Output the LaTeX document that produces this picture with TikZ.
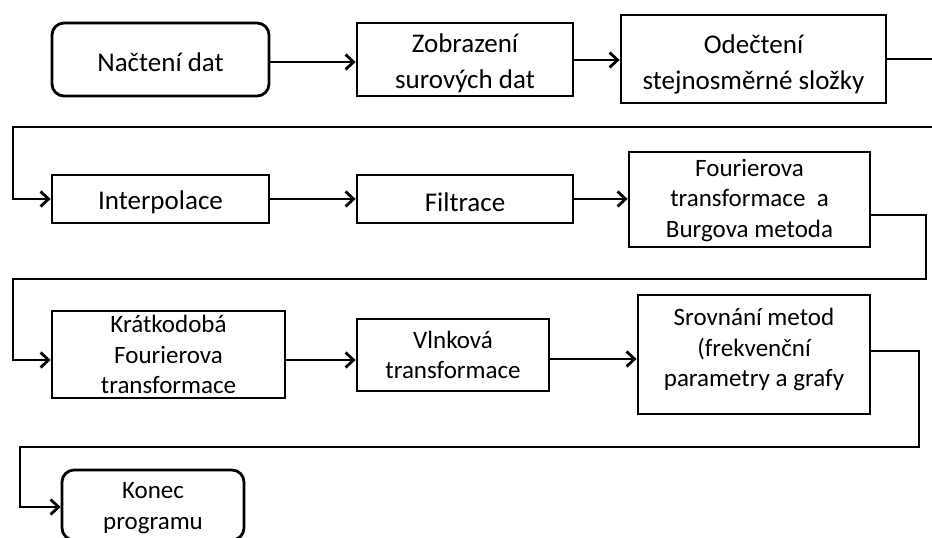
\documentclass[tikz,border=0pt]{standalone}
\usepackage{fontspec}
\setmainfont{Carlito}
\usetikzlibrary{arrows.meta}
\begin{document}
\begin{tikzpicture}[x=1pt,y=1pt,
  box/.style n args={2}{draw, line width=2.8pt, inner sep=0pt,
    minimum width=#1, minimum height=#2},
  txt/.style={inner sep=0pt, align=center},
  big/.style={font=\fontsize{27}{36}\selectfont},
  small/.style={font=\fontsize{25}{30.5}\selectfont},
  wire/.style={line width=2.8pt},
  conn/.style={line width=2.8pt, -{Straight Barb[length=8pt,width=15pt]}}]
\useasboundingbox[fill=white] (0,0) rectangle (932,-538);

\node[box={217}{73}, rounded corners=12pt] (n1) at (160.5,-59.5) {};
\node[box={216}{73}] (n2) at (465,-59.5) {};
\node[box={265}{88}] (n3) at (753.5,-59) {};
\node[box={217}{48}] (n4) at (160.5,-199) {};
\node[box={216}{48}] (n5) at (465,-199) {};
\node[box={241}{95}] (n6) at (749.5,-199.5) {};
\node[box={233}{87}] (n7) at (168.5,-354.5) {};
\node[box={192}{72}] (n8) at (453,-355) {};
\node[box={232}{119}] (n9) at (754,-354.5) {};
\node[box={182}{70}, rounded corners=12pt] (n10) at (153,-505) {};

\node[txt, big, yshift=-3pt] (t1) at (n1) {Načtení dat};
\node[txt, big, yshift=-4pt] (t2) at (n2) {Zobrazení\\surových dat};
\node[txt, big, yshift=-5pt] (t3) at (n3) {Odečtení\\stejnosměrné složky};
\node[txt, big, yshift=-3pt] (t4) at (n4) {Interpolace};
\node[txt, big, yshift=-3pt] (t5) at (n5) {Filtrace};
\node[txt, small, yshift=-1pt] (t6) at (n6) {Fourierova\\transformace \ a\\Burgova metoda};
\node[txt, small] (t7) at (n7) {Krátkodobá\\Fourierova\\transformace};
\node[txt, small] (t8) at (n8) {Vlnková\\transformace};
\node[txt, small, yshift=5pt] (t9) at (n9) {Srovnání metod\\(frekvenční\\parametry a grafy};
\node[txt, small, yshift=-3pt] (t10) at (n10) {Konec\\programu};

\coordinate (o1) at (932,-59);
\coordinate (c1) at (932,-127);
\coordinate (c2) at (13,-127);
\coordinate (c3) at (926,-279);
\coordinate (c4) at (13,-279);
\coordinate (c5) at (919,-447);
\coordinate (c6) at (20,-447);

\draw[conn] (n1.east |- 0,-62) -- (n2.west |- 0,-62);
\draw[conn] (n2.east |- 0,-60) -- (n3.west |- 0,-60);
\draw[wire] (n3.east) -- (o1);
\draw[conn] (c1) -- (c2) |- (n4.west);
\draw[conn] (n4) -- (n5);
\draw[conn] (n5.east) -- (n5.east -| n6.west);
\draw[conn] (n6.east |- 0,-215) -| (c3) -- (c4) |- (n7.west |- 0,-360);
\draw[conn] (n7.east |- 0,-360) -- (n8.west |- 0,-360);
\draw[conn] (n8.east |- 0,-359) -- (n9.west |- 0,-359);
\draw[conn] (n9.east |- 0,-351) -| (c5) -- (c6) |- (n10.west |- 0,-507);
\end{tikzpicture}
\end{document}
